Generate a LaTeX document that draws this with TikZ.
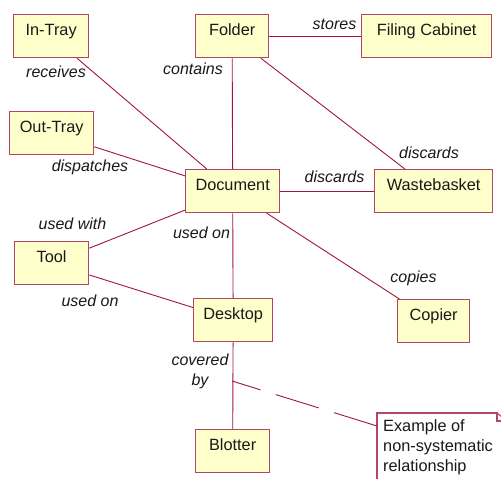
\documentclass[tikz,border=0pt]{standalone}
\usepackage{fontspec}
\setmainfont{Liberation Sans}
\usetikzlibrary{calc}
\definecolor{boxfill}{RGB}{255,255,204}
\definecolor{boxline}{RGB}{180,70,100}
\definecolor{linkc}{RGB}{160,20,70}
\definecolor{txt}{RGB}{25,25,25}
\begin{document}
\begin{tikzpicture}[x=1pt,y=-1pt,
  entity/.style={draw=boxline, line width=1.3pt, fill=boxfill, inner sep=0pt,
    text height=10pt, text depth=11pt, anchor=north west, minimum height=43pt,
    font=\fontsize{16.3}{20}\selectfont, text=txt},
  link/.style={draw=linkc, line width=0.9pt},
  lbl/.style={font=\fontsize{16}{20}\selectfont\itshape, text=txt, anchor=base, inner sep=0pt},
  notetxt/.style={font=\fontsize{16.3}{20}\selectfont, text=txt, align=left, anchor=north west,
    inner xsep=6pt, inner ysep=6pt},
  noteline/.style={draw=boxline, line width=1.1pt},
  dashlink/.style={draw=linkc, line width=0.9pt, dash pattern=on 45pt off 16pt}]
\useasboundingbox (0,0) rectangle (501,479);
\fill[white] (0,0) rectangle (501,479);

% entities
\node[entity, minimum width=75pt]  (intray)  at (13,14)   {In-Tray};
\node[entity, minimum width=73pt]  (folder)  at (195,14)  {Folder};
\node[entity, minimum width=130pt] (filing)  at (361,14)  {Filing Cabinet};
\node[entity, minimum width=84pt]  (outtray) at (9,111)   {Out-Tray};
\node[entity, minimum width=94pt]  (doc)     at (185,169) {Document};
\node[entity, minimum width=118pt] (waste)   at (374,169) {Wastebasket};
\node[entity, minimum width=74pt]  (tool)    at (14,241)  {Tool};
\node[entity, minimum width=79pt]  (desktop) at (193,298) {Desktop};
\node[entity, minimum width=72pt]  (copier)  at (397,299) {Copier};
\node[entity, minimum width=74pt]  (blotter) at (195,429) {Blotter};

% connectors
\draw[link] (intray) -- (doc);
\draw[link] (folder) -- (doc);
\draw[link] (folder) -- (filing);
\draw[link] (folder) -- (waste);
\draw[link] (outtray) -- (doc);
\draw[link] (doc) -- (waste);
\draw[link] (doc) -- (copier);
\draw[link] (doc) -- (tool);
\draw[link] (doc) -- (desktop);
\draw[link] (tool) -- (desktop);
\draw[link] (desktop) -- (blotter);

% labels
\node[lbl] (lreceives)  at (56,77)     {receives};
\node[lbl] (lcontains)  at (193,74)    {contains};
\node[lbl] (lstores)    at (334.5,29)  {stores};
\node[lbl] (ldispatch)  at (90,171)    {dispatches};
\node[lbl] (ldiscards1) at (429,158)   {discards};
\node[lbl] (ldiscards2) at (334.5,182) {discards};
\node[lbl] (lusedwith)  at (72.5,229)  {used with};
\node[lbl] (lusedon1)   at (201.5,238) {used on};
\node[lbl] (lusedon2)   at (90,306)    {used on};
\node[lbl] (lcopies)    at (413.5,282) {copies};
\node[lbl, align=center, anchor=north] (lcovered) at (200,354) {covered\\by};

% note
\coordinate (notecorner) at (377,413);
\draw[noteline, fill=white] (notecorner) ++(0,75) -- (notecorner) -- ++(120,0) -- ++(0,8) -- ++(10,0);
\draw[noteline] ($(notecorner)+(120,0)$) -- ++(10,8);
\node[notetxt] (note) at (notecorner) {Example of\\non-systematic\\relationship};
\coordinate (nattach) at ($(note.north west)+(0,13)$);
\coordinate (dlpt) at (232,381);
\draw[dashlink] (nattach) -- (dlpt);
\end{tikzpicture}
\end{document}
